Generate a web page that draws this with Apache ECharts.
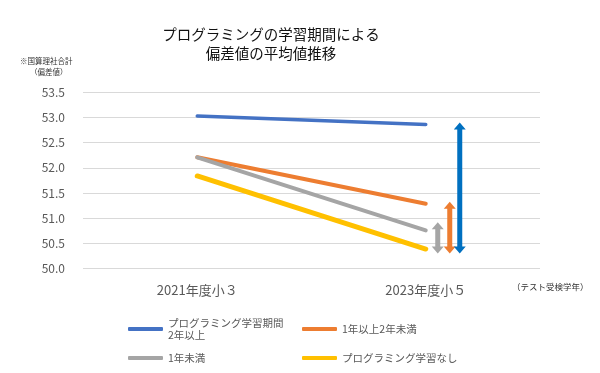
<!DOCTYPE html>
<html><head><meta charset="utf-8">
<script src="https://cdn.jsdelivr.net/npm/echarts@6/dist/echarts.min.js"></script>
<style>html,body{margin:0;padding:0;background:#fff}#c{width:600px;height:373px}</style>
</head><body><div id="c"></div>
<script>
var categories = ['2021年度小３', '2023年度小５'];
var seriesNames = ['プログラミング学習期間\n2年以上', '1年以上2年未満', '1年未満', 'プログラミング学習なし'];
var blueValues = [53.03, 52.86];
var orangeValues = [52.21, 51.29];
var grayValues = [52.21, 50.76];
var yellowValues = [51.84, 50.39];
var yTicks = [50.0, 50.5, 51.0, 51.5, 52.0, 52.5, 53.0, 53.5];
// arrows at 2023: [category index, low, high]
var arrowGray = [1, 50.30, 50.92];
var arrowOrange = [1, 50.30, 51.33];
var arrowBlue = [1, 50.30, 52.90];

var colors = ['#4472C4', '#ED7D31', '#A5A5A5', '#FFC000'];
var arrowColors = ['#A5A5A5', '#ED7D31', '#0070C0'];
var arrowOffsets = [12, 24, 34];
var font = '"Noto Sans CJK JP", "Noto Sans", sans-serif';

var chart = echarts.init(document.getElementById('c'), null, {renderer: 'canvas'});

function arrowItem(params, api) {
  var i = params.dataIndex;
  var p1 = api.coord([api.value(0), api.value(1)]);
  var p2 = api.coord([api.value(0), api.value(2)]);
  var x = p1[0] + arrowOffsets[i];
  var yb = p1[1], yt = p2[1];
  var sw = 2.5, hw = 6, hl = 7;
  var pts = [
    [x, yt], [x + hw, yt + hl], [x + sw, yt + hl], [x + sw, yb - hl], [x + hw, yb - hl],
    [x, yb], [x - hw, yb - hl], [x - sw, yb - hl], [x - sw, yt + hl], [x - hw, yt + hl]
  ];
  return {type: 'polygon', shape: {points: pts}, style: {fill: arrowColors[i]}};
}

function lineSeries(name, data, color, w) {
  return {
    name: name, type: 'line', data: data, symbol: 'none',
    lineStyle: {color: color, width: w, cap: 'round'},
    itemStyle: {color: color}, animation: false
  };
}

function legendAt(name, left, top) {
  return {
    data: [name], left: left, top: top, icon: 'roundRect',
    itemWidth: 35, itemHeight: 4,
    textStyle: {color: '#595959', fontSize: 10.5, fontFamily: font, lineHeight: 12},
    selectedMode: false
  };
}

chart.setOption({
  animation: false,
  color: colors,
  title: {
    text: 'プログラミングの学習期間による\n偏差値の平均値推移',
    left: 266, top: 20, textAlign: 'center',
    textStyle: {fontSize: 14.5, fontWeight: 'normal', color: '#111', fontFamily: font, lineHeight: 19}
  },
  graphic: [
    {type: 'text', left: 20, top: 57, style: {text: '※国算理社合計', fill: '#333', font: '7.5px ' + font}},
    {type: 'text', left: 30, top: 68, style: {text: '（偏差値）', fill: '#333', font: '7.5px ' + font}},
    {type: 'text', left: 512, top: 283, style: {text: '（テスト受検学年）', fill: '#333', font: '8.5px ' + font}}
  ],
  legend: [
    legendAt(seriesNames[0], 123, 312),
    legendAt(seriesNames[1], 297, 318),
    legendAt(seriesNames[2], 123, 347),
    legendAt(seriesNames[3], 297, 347)
  ],
  grid: {left: 83, right: 60, top: 92.3, bottom: 104.3},
  xAxis: {
    type: 'category', data: categories, boundaryGap: true,
    axisLine: {show: false}, axisTick: {show: false},
    axisLabel: {color: '#595959', fontSize: 13, fontFamily: font, margin: 15}
  },
  yAxis: {
    type: 'value', min: yTicks[0], max: yTicks[yTicks.length - 1], interval: 0.5,
    axisLine: {show: false}, axisTick: {show: false},
    axisLabel: {color: '#595959', fontSize: 12, fontFamily: font, margin: 18,
      formatter: function (v) { return v.toFixed(1); }},
    splitLine: {lineStyle: {color: '#D9D9D9', width: 1}}
  },
  series: [
    lineSeries(seriesNames[0], blueValues, colors[0], 3.5),
    lineSeries(seriesNames[1], orangeValues, colors[1], 4),
    lineSeries(seriesNames[2], grayValues, colors[2], 4),
    lineSeries(seriesNames[3], yellowValues, colors[3], 5),
    {
      type: 'custom', renderItem: arrowItem, silent: true,
      encode: {x: 0, y: [1, 2]},
      data: [arrowGray, arrowOrange, arrowBlue], z: 3
    }
  ]
});
</script></body></html>
